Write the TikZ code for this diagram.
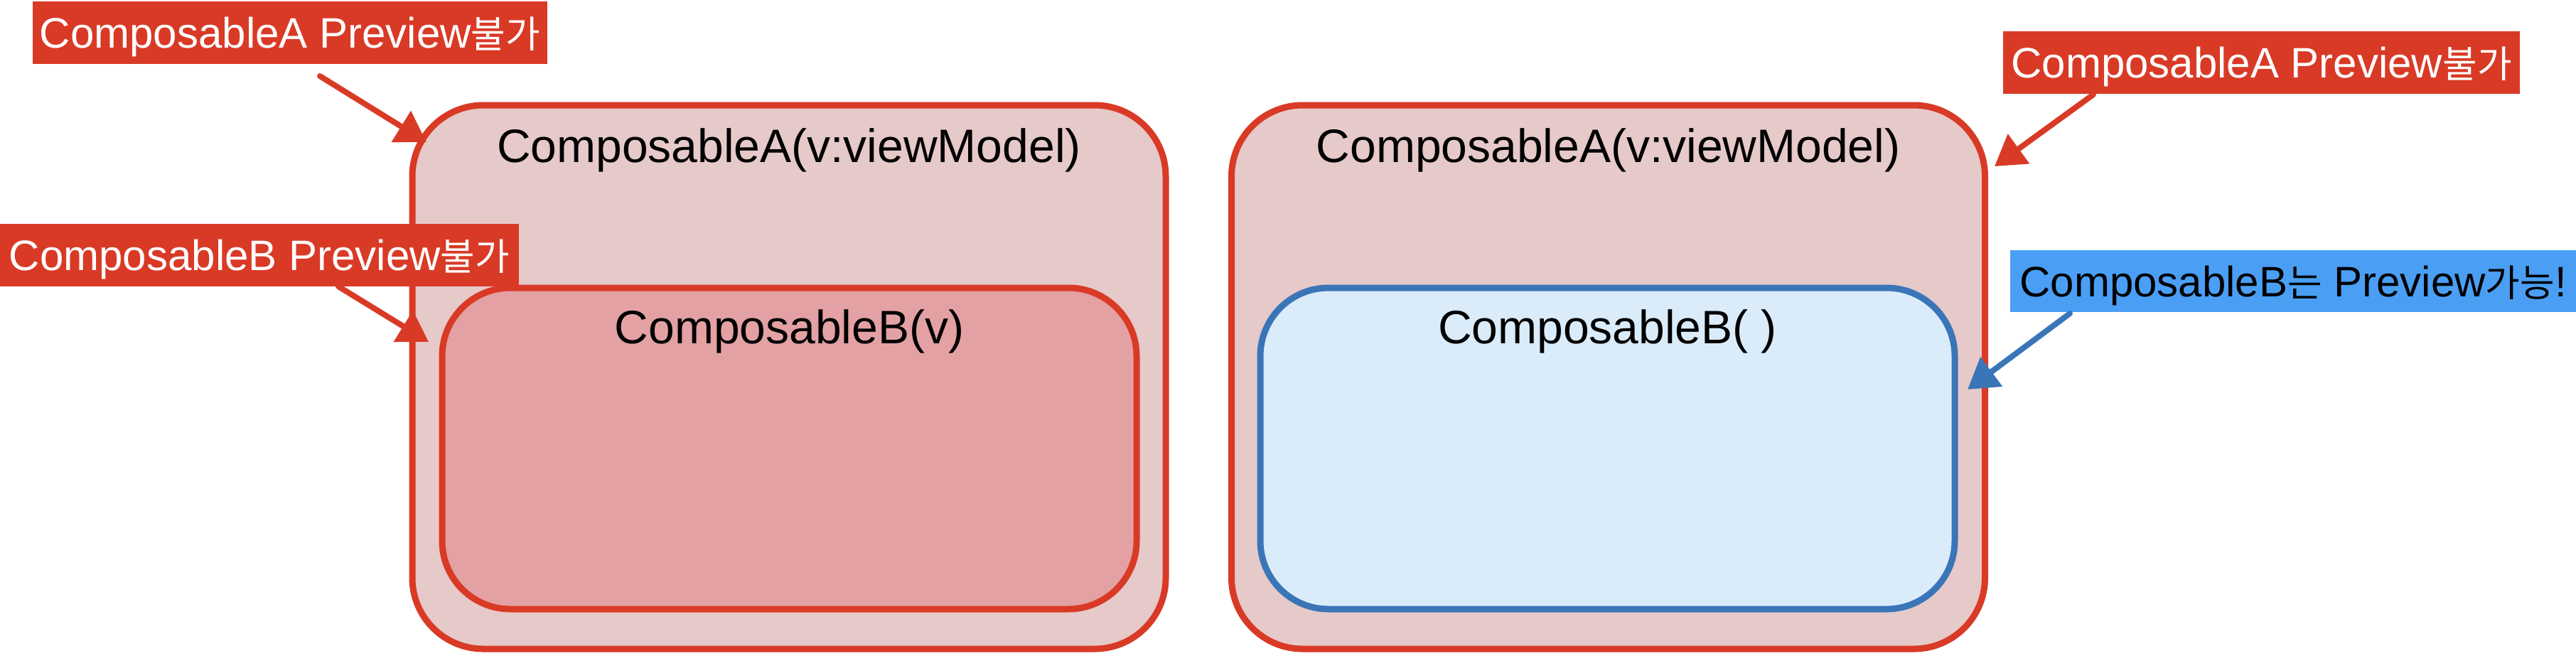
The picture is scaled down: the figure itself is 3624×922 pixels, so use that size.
\documentclass[tikz,border=0pt]{standalone}
\usepackage{fontspec}
\setmainfont{Liberation Sans}
\newfontfamily\krfont{Noto Sans CJK KR}[Scale=0.88]
\usetikzlibrary{arrows.meta}
\definecolor{cRed}{RGB}{217,58,38}
\definecolor{cOuter}{RGB}{230,201,201}
\definecolor{cInnerRed}{RGB}{227,161,164}
\definecolor{cBlueLbl}{RGB}{74,159,245}
\definecolor{cBlueLine}{RGB}{58,117,184}
\definecolor{cInnerBlue}{RGB}{218,235,250}
\begin{document}
\begin{tikzpicture}[x=0.5pt,y=-0.5pt,
  outerbox/.style={draw=cRed, fill=cOuter, line width=4.5pt, rounded corners=50pt,
    minimum width=530pt, minimum height=382.5pt, inner sep=0pt},
  innerred/.style={draw=cRed, fill=cInnerRed, line width=4.5pt, rounded corners=48pt,
    minimum width=488.5pt, minimum height=226pt, inner sep=0pt},
  innerblue/.style={draw=cBlueLine, fill=cInnerBlue, line width=4.5pt, rounded corners=48pt,
    minimum width=488.5pt, minimum height=226pt, inner sep=0pt},
  titletext/.style={anchor=base, font=\fontsize{33}{40}\selectfont, text=black, inner sep=0pt},
  redlbl/.style={fill=cRed, text=white, font=\fontsize{30}{36}\selectfont,
    text height=21.5pt, text depth=0pt, inner sep=0pt, minimum height=44pt},
  bluelbl/.style={fill=cBlueLbl, text=black, font=\fontsize{30}{36}\selectfont,
    text height=21.5pt, text depth=0pt, inner sep=0pt, minimum height=43.5pt},
  redarr/.style={draw=cRed, line width=4pt, line cap=round, -{Triangle[length=21pt,width=25pt]}},
  bluearr/.style={draw=cBlueLine, line width=4pt, line cap=round, -{Triangle[length=21pt,width=25pt]}}
]
\path[fill=white, use as bounding box] (0,0) rectangle (3624,922);

% left group
\node[outerbox] (outerL) at (1110,530.5) {};
\node[titletext] (titleAL) at (1110,228) {ComposableA(v:viewModel)};
\node[innerred] (innerL) at (1110.5,631) {};
\node[titletext] (titleBL) at (1110.5,483) {ComposableB(v)};

% right group
\node[outerbox] (outerR) at (2262.5,530.5) {};
\node[titletext] (titleAR) at (2262.5,228) {ComposableA(v:viewModel)};
\node[innerblue] (innerR) at (2261.5,631) {};
\node[titletext] (titleBR) at (2261.5,483) {ComposableB( )};

% labels
\node[redlbl, minimum width=362pt] (lblA1) at (408,46) {ComposableA Preview{\krfont 불가}};
\node[redlbl, minimum width=365pt] (lblB1) at (365,358.5) {ComposableB Preview{\krfont 불가}};
\node[redlbl, minimum width=363.5pt] (lblA2) at (3181.5,88) {ComposableA Preview{\krfont 불가}};
\node[bluelbl, minimum width=398pt] (lblB2) at (3226,395.5) {ComposableB{\krfont 는} Preview{\krfont 가능}!};

% arrow ends
\coordinate (a1s) at (450,107);
\coordinate (a1t) at (600,200);
\coordinate (b1s) at (476,403);
\coordinate (b1t) at (603,481);
\coordinate (a2s) at (2945,133);
\coordinate (a2t) at (2806,234);
\coordinate (b2s) at (2912,441);
\coordinate (b2t) at (2768,548);

\draw[redarr] (a1s) -- (a1t);
\draw[redarr] (b1s) -- (b1t);
\draw[redarr] (a2s) -- (a2t);
\draw[bluearr] (b2s) -- (b2t);
\end{tikzpicture}
\end{document}
